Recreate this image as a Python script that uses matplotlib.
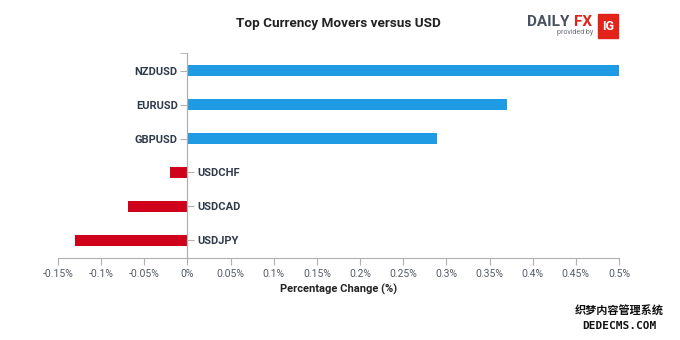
import matplotlib.pyplot as plt
from matplotlib.patches import Rectangle

pairs = ['NZDUSD', 'EURUSD', 'GBPUSD', 'USDCHF', 'USDCAD', 'USDJPY']
changes = [0.50, 0.37, 0.289, -0.02, -0.069, -0.13]
xticks = [-0.15, -0.1, -0.05, 0, 0.05, 0.1, 0.15, 0.2, 0.25, 0.3, 0.35, 0.4, 0.45, 0.5]
xticklabels = ['-0.15%', '-0.1%', '-0.05%', '0%', '0.05%', '0.1%', '0.15%', '0.2%',
               '0.25%', '0.3%', '0.35%', '0.4%', '0.45%', '0.5%']

plt.rcParams['font.family'] = ['Roboto', 'DejaVu Sans']

fig = plt.figure(figsize=(6.8, 3.4), dpi=100)
ax = fig.add_axes([58 / 680, 1 - 258 / 340, 561 / 680, 205 / 340])

ypos = list(range(len(pairs) - 1, -1, -1))
colors = ['#1e9be3' if v >= 0 else '#d0021b' for v in changes]
ax.barh(ypos, changes, height=0.33, color=colors, zorder=2)

ax.set_xlim(-0.15, 0.5)
ax.set_ylim(-0.515, 5.515)
ax.set_xticks(xticks)
ax.set_xticklabels(xticklabels, fontsize=7.5, color='#555b66')
ax.tick_params(axis='x', direction='out', length=5, color='#b0b0b0', pad=3)

ax.spines['top'].set_visible(False)
ax.spines['bottom'].set_color('#b0b0b0')
ax.spines['left'].set_position(('data', 0))
ax.spines['right'].set_position(('data', 0))
ax.spines['left'].set_color('#b0b0b0')
ax.spines['right'].set_color('#b0b0b0')
ax.spines['left'].set_zorder(3)

ax.set_yticks(ypos)
ax.set_yticklabels(pairs)
ax.set_yticks([5.515], minor=True)
ax.tick_params(axis='y', which='minor', left=True, right=False, length=5,
               color='#b0b0b0', labelleft=False, labelright=False)
ax.tick_params(axis='y', which='major', left=True, right=True, labelleft=True,
               labelright=True, length=5, color='#b0b0b0', labelsize=8, pad=2)
for tick, v in zip(ax.yaxis.get_major_ticks(), changes):
    pos = v >= 0
    tick.tick1line.set_visible(pos)
    tick.label1.set_visible(pos)
    tick.tick2line.set_visible(not pos)
    tick.label2.set_visible(not pos)
    for lab in (tick.label1, tick.label2):
        lab.set_fontweight('bold')
        lab.set_color('#2f3a4a')

ax.set_xlabel('Percentage Change (%)', fontsize=8, fontweight='bold', color='#222222', labelpad=3)

fig.text(338 / 680, 1 - 23 / 340, 'Top Currency Movers versus USD', ha='center', va='center',
         fontsize=9.7, fontweight='bold', color='#222222')

# DailyFX logo
fig.text(527 / 680, 1 - 22 / 340, 'DAILY', ha='left', va='center', fontsize=11,
         fontweight='bold', color='#4a5260')
fig.text(574 / 680, 1 - 22 / 340, 'FX', ha='left', va='center', fontsize=11,
         fontweight='bold', color='#e2231a')
fig.text(557 / 680, 1 - 33 / 340, 'provided by', ha='left', va='center', fontsize=5,
         color='#6a6f78')
fig.patches.append(Rectangle((598 / 680, 1 - 38 / 340), 20 / 680, 24 / 340,
                             transform=fig.transFigure, color='#e2231a'))
fig.text(608 / 680, 1 - 26 / 340, 'IG', ha='center', va='center', fontsize=9,
         fontweight='bold', color='white')

# watermark
fig.text(619 / 680, 1 - 311 / 340, '织梦内容管理系统', ha='center', va='center', fontsize=8,
         fontweight='bold', color='#111111', family=['Noto Sans CJK SC', 'DejaVu Sans'])
fig.text(619 / 680, 1 - 326 / 340, 'DEDECMS.COM', ha='center', va='center', fontsize=8,
         fontweight='bold', color='#111111', family=['DejaVu Sans Mono', 'DejaVu Sans'])

fig.savefig('out.png', dpi=100)
